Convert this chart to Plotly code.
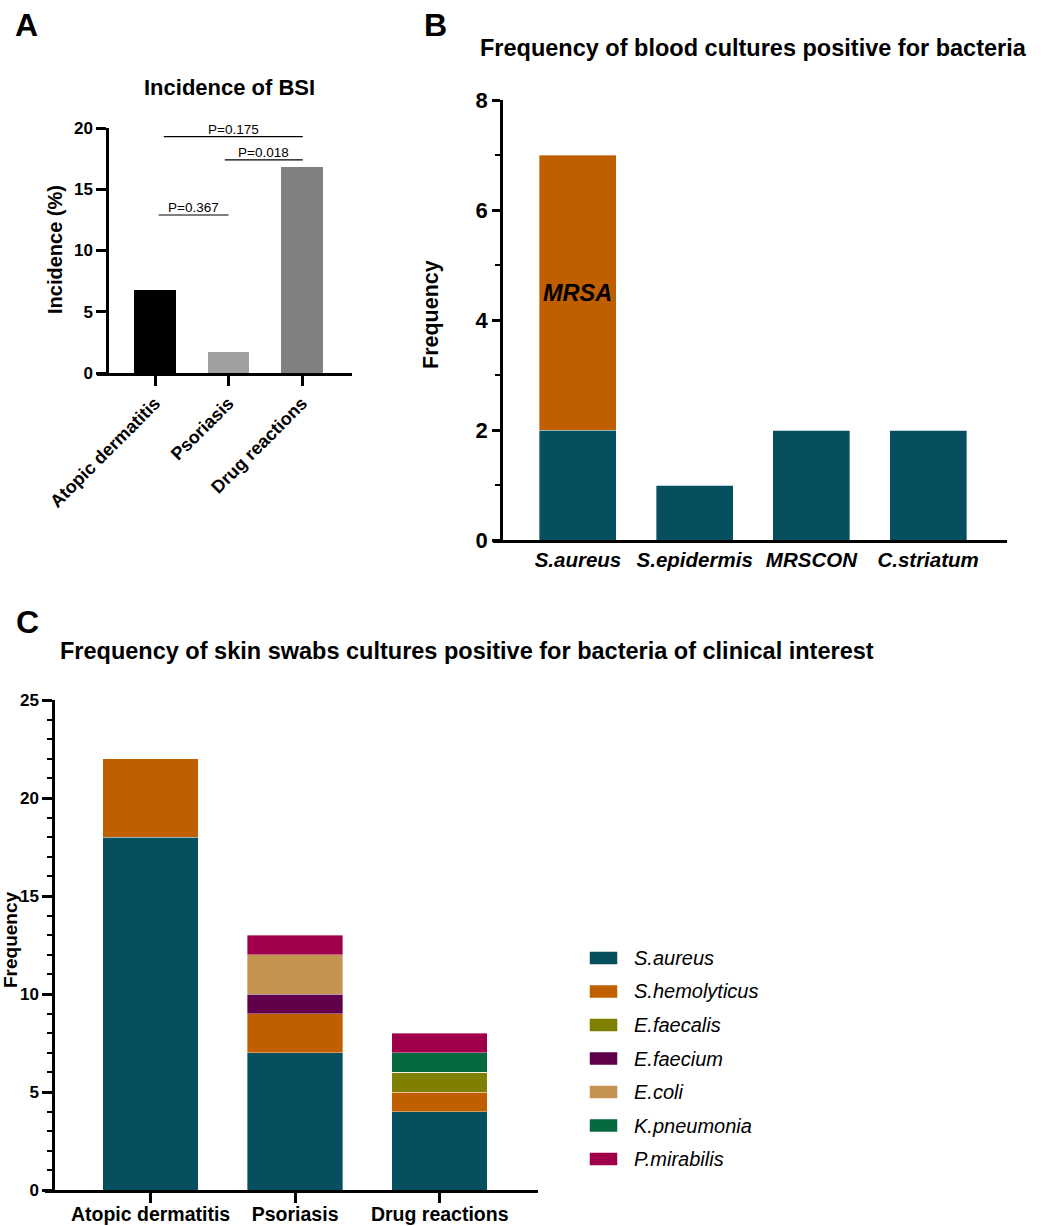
import plotly.graph_objects as go

W, H = 1045, 1226
FONT = "Liberation Sans"

# ---------------- data ----------------
# Panel A
a_categories = ["Atopic dermatitis", "Psoriasis", "Drug reactions"]
a_incidence = [6.8, 1.7, 16.8]
a_colors = ["#000000", "#A0A0A2", "#808080"]
a_brackets_x0 = [0.05, 0.12, 0.95]
a_brackets_x1 = [1.0, 2.01, 2.01]
a_brackets_y = [12.9, 19.3, 17.4]
a_brackets_text = ["P=0.367", "P=0.175", "P=0.018"]
a_yticks = [0, 5, 10, 15, 20]

# Panel B
b_categories = ["S.aureus", "S.epidermis", "MRSCON", "C.striatum"]
b_base = [2, 1, 2, 2]
b_mrsa = [5, 0, 0, 0]
b_yticks = [0, 2, 4, 6, 8]

# Panel C
c_categories = ["Atopic dermatitis", "Psoriasis", "Drug reactions"]
c_species = ["S.aureus", "S.hemolyticus", "E.faecalis", "E.faecium",
             "E.coli", "K.pneumonia", "P.mirabilis"]
c_values = {
    "S.aureus":      [18, 7, 4],
    "S.hemolyticus": [4, 2, 1],
    "E.faecalis":    [0, 0, 1],
    "E.faecium":     [0, 1, 0],
    "E.coli":        [0, 2, 0],
    "K.pneumonia":   [0, 0, 1],
    "P.mirabilis":   [0, 1, 1],
}
c_colors = ["#054F5F", "#C05F00", "#7F7F00", "#60004B",
            "#C4934F", "#066940", "#A0004A"]
c_yticks = [0, 5, 10, 15, 20, 25]


def px(x):
    return x / W


def py(y):
    return 1 - y / H


fig = go.Figure()

# ---------------- Panel A ----------------
fig.add_trace(go.Bar(x=a_categories, y=a_incidence, marker_color=a_colors,
                     marker_line_width=0,
                     width=0.57, xaxis="x", yaxis="y", showlegend=False))

# ---------------- Panel B ----------------
fig.add_trace(go.Bar(x=b_categories, y=b_base, marker_color=c_colors[0],
                     marker_line_width=0.6, marker_line_color="rgba(255,255,255,0.6)",
                     width=0.66, xaxis="x2", yaxis="y2", showlegend=False))
fig.add_trace(go.Bar(x=b_categories, y=b_mrsa, marker_color=c_colors[1],
                     marker_line_width=0.6, marker_line_color="rgba(255,255,255,0.6)",
                     width=0.66, xaxis="x2", yaxis="y2", showlegend=False))

# ---------------- Panel C ----------------
for name, col in zip(c_species, c_colors):
    fig.add_trace(go.Bar(x=c_categories, y=c_values[name], marker_color=col,
                         marker_line_width=0.6, marker_line_color="rgba(255,255,255,0.6)",
                         width=0.66, name=name, xaxis="x3", yaxis="y3",
                         showlegend=False))

axis_common = dict(showgrid=False, zeroline=False, showline=True,
                   linecolor="black", linewidth=2.5, tickcolor="black",
                   tickwidth=2.5, automargin=False)

layout = dict(
    template="none",
    width=W, height=H, barmode="stack", autosize=False,
    margin=dict(l=0, r=0, t=0, b=0, pad=0, autoexpand=False),
    plot_bgcolor="white", paper_bgcolor="white",
    font=dict(family=FONT, color="black"),
    showlegend=False,
    # Panel A
    xaxis=dict(domain=[px(97), px(352)], range=[-0.789, 2.68],
               anchor="y", ticks="outside", ticklen=10, tickangle=-45,
               tickfont=dict(size=18, weight="bold", family=FONT),
               **axis_common),
    yaxis=dict(domain=[py(373), py(128)], range=[0, 20], anchor="free",
               position=px(107), tickvals=a_yticks, ticks="outside",
               ticklen=10, tickfont=dict(size=17, weight="bold", family=FONT),
               **axis_common),
    # Panel B
    xaxis2=dict(domain=[px(493), px(1007)], range=[-0.728, 3.676],
                anchor="y2", ticks="",
                tickfont=dict(size=20.5, weight="bold", style="italic", family=FONT),
                showgrid=False, zeroline=False, showline=True,
                linecolor="black", linewidth=2.5, automargin=False),
    yaxis2=dict(domain=[py(540), py(100)], range=[0, 8], anchor="free",
                position=px(501), tickvals=b_yticks, ticks="outside",
                ticklen=8,
                tickfont=dict(size=22, weight="bold",
                              family="Liberation Sans Narrow, " + FONT),
                minor=dict(ticks="outside", ticklen=5, tickwidth=2,
                           tickcolor="black", dtick=1, tick0=0),
                **axis_common),
    # Panel C
    xaxis3=dict(domain=[px(45), px(538)], range=[-0.73, 2.68],
                anchor="y3", ticks="outside", ticklen=10,
                ticklabelstandoff=-5,
                tickfont=dict(size=19.5, weight="bold", family=FONT),
                **axis_common),
    yaxis3=dict(domain=[py(1190), py(700)], range=[0, 25], anchor="free",
                position=px(53), tickvals=c_yticks, ticks="outside",
                ticklen=10,
                tickfont=dict(size=17, weight="bold", family=FONT),
                minor=dict(ticks="outside", ticklen=5, tickwidth=2,
                           tickcolor="black", dtick=1, tick0=0),
                **axis_common),
)
fig.update_layout(**layout)

annotations = []
shapes = []

# panel letters
for letter, x, y in [("A", 26, 25), ("B", 435, 25), ("C", 27, 622)]:
    annotations.append(dict(text=letter, x=px(x), y=py(y), xref="paper",
                            yref="paper", showarrow=False, xanchor="center",
                            yanchor="middle",
                            font=dict(size=32, weight="bold", family=FONT)))

# titles
annotations.append(dict(text="Incidence of BSI", x=px(229), y=py(88),
                        xref="paper", yref="paper", showarrow=False,
                        xanchor="center", yanchor="middle",
                        font=dict(size=22, weight="bold", family=FONT)))
annotations.append(dict(text="Frequency of blood cultures positive for bacteria",
                        x=px(478), y=py(48), xref="paper", yref="paper",
                        showarrow=False, xanchor="left", yanchor="middle",
                        font=dict(size=23.5, weight="bold", family=FONT)))
annotations.append(dict(text="Frequency of skin swabs cultures positive for bacteria of clinical interest",
                        x=px(58), y=py(651), xref="paper", yref="paper",
                        showarrow=False, xanchor="left", yanchor="middle",
                        font=dict(size=23.5, weight="bold", family=FONT)))

# y-axis titles
annotations.append(dict(text="Incidence (%)", x=px(55), y=py(250), xref="paper",
                        yref="paper", showarrow=False, textangle=-90,
                        xanchor="center", yanchor="middle",
                        font=dict(size=20, weight="bold", family=FONT)))
annotations.append(dict(text="Frequency", x=px(431), y=py(315), xref="paper",
                        yref="paper", showarrow=False, textangle=-90,
                        xanchor="center", yanchor="middle",
                        font=dict(size=21.5, weight="bold", family=FONT)))
annotations.append(dict(text="Frequency", x=px(10), y=py(940), xref="paper",
                        yref="paper", showarrow=False, textangle=-90,
                        xanchor="center", yanchor="middle",
                        font=dict(size=19, weight="bold", family=FONT)))

# MRSA label
annotations.append(dict(text="MRSA", x=b_categories[0],
                        y=b_base[0] + b_mrsa[0] * 0.5, xref="x2", yref="y2",
                        showarrow=False, xanchor="center", yanchor="middle",
                        font=dict(size=23.5, weight="bold", style="italic",
                                  family=FONT)))

# P-value brackets
for x0, x1, y, t in zip(a_brackets_x0, a_brackets_x1, a_brackets_y, a_brackets_text):
    shapes.append(dict(type="line", xref="x", yref="y", x0=x0, x1=x1, y0=y, y1=y,
                       line=dict(color="black", width=1.2)))
    annotations.append(dict(text=t, x=(x0 + x1) / 2, y=y, xref="x", yref="y",
                            showarrow=False, xanchor="center", yanchor="bottom",
                            yshift=-2, font=dict(size=13.5, family=FONT)))

# manual legend for panel C
leg_y0 = 958
leg_dy = 33.5
for i, (name, col) in enumerate(zip(c_species, c_colors)):
    yc = leg_y0 + i * leg_dy
    shapes.append(dict(type="rect", xref="paper", yref="paper",
                       x0=px(590), x1=px(617), y0=py(yc - 6), y1=py(yc + 6),
                       fillcolor=col, line=dict(color=col, width=0.5)))
    annotations.append(dict(text=name, x=px(632), y=py(yc), xref="paper",
                            yref="paper", showarrow=False, xanchor="left",
                            yanchor="middle",
                            font=dict(size=20, style="italic", family=FONT)))

fig.update_layout(annotations=annotations, shapes=shapes)

fig.write_html("out.html", config={"displayModeBar": False},
               post_script="document.body.style.margin='0';")
